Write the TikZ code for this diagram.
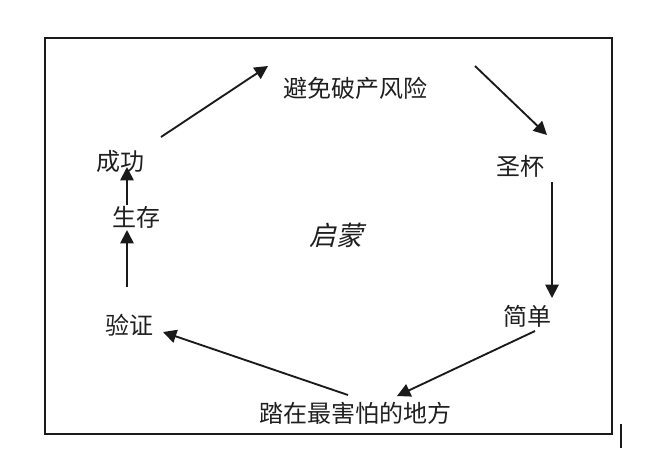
\documentclass[tikz,border=0pt]{standalone}
\usepackage{fontspec}
\usetikzlibrary{arrows.meta,positioning,calc}
\newfontfamily\cjk{Noto Sans CJK SC}
\newfontfamily\cjkslant[FakeSlant=0.25]{Noto Sans CJK SC}
\definecolor{inkline}{HTML}{1A1A1A}
\definecolor{inktext}{HTML}{1F1F1F}

\begin{document}
\begin{tikzpicture}[x=0.75pt,y=-0.75pt,
  lbl/.style={inner sep=0pt,text=inktext,font=\cjk\fontsize{18}{20}\selectfont},
  arr/.style={draw=inkline,line width=1.4pt,-{Triangle[length=10pt,width=10pt]}}]
\useasboundingbox (0,0) rectangle (663,451);

% frame
\draw[inkline,line width=2pt] (45,38) rectangle (612,434);
\draw[inkline,line width=1.4pt] (621,424) -- (621,448);

% labels
\node[lbl] (bimian) at (355,88) {避免破产风险};
\node[lbl] (shengbei) at (520,166) {圣杯};
\node[lbl] (jiandan) at (527,316) {简单};
\node[lbl] (tazai) at (355,413) {踏在最害怕的地方};
\node[lbl] (yanzheng) at (129,325) {验证};
\node[lbl] (shengcun) at (136,217) {生存};
\node[lbl] (chenggong) at (120,161) {成功};
\node[inner sep=0pt,text=inktext,font=\cjkslant\fontsize{20}{22}\selectfont] (qimeng) at (336,235) {启蒙};

% arrow ends
\coordinate (cg-out) at (161,137);
\coordinate (bm-in) at (268,66);
\coordinate (bm-out) at (475,66);
\coordinate (sb-in) at (547,135);
\coordinate (sb-out) at (552,182);
\coordinate (jd-in) at (552,298);
\coordinate (jd-out) at (535,331);
\coordinate (tz-in) at (397,396);
\coordinate (tz-out) at (348,395);
\coordinate (yz-in) at (163,332);
\coordinate (yz-out) at (127,287);
\coordinate (sc-in) at (127,230);
\coordinate (sc-out) at (127,205);
\coordinate (cg-in) at (127,167);

% cycle
\draw[arr] (cg-out) -- (bm-in);
\draw[arr] (bm-out) -- (sb-in);
\draw[arr] (sb-out) -- (jd-in);
\draw[arr] (jd-out) -- (tz-in);
\draw[arr] (tz-out) -- (yz-in);
\draw[arr] (yz-out) -- (sc-in);
\draw[arr] (sc-out) -- (cg-in);
\end{tikzpicture}
\end{document}
